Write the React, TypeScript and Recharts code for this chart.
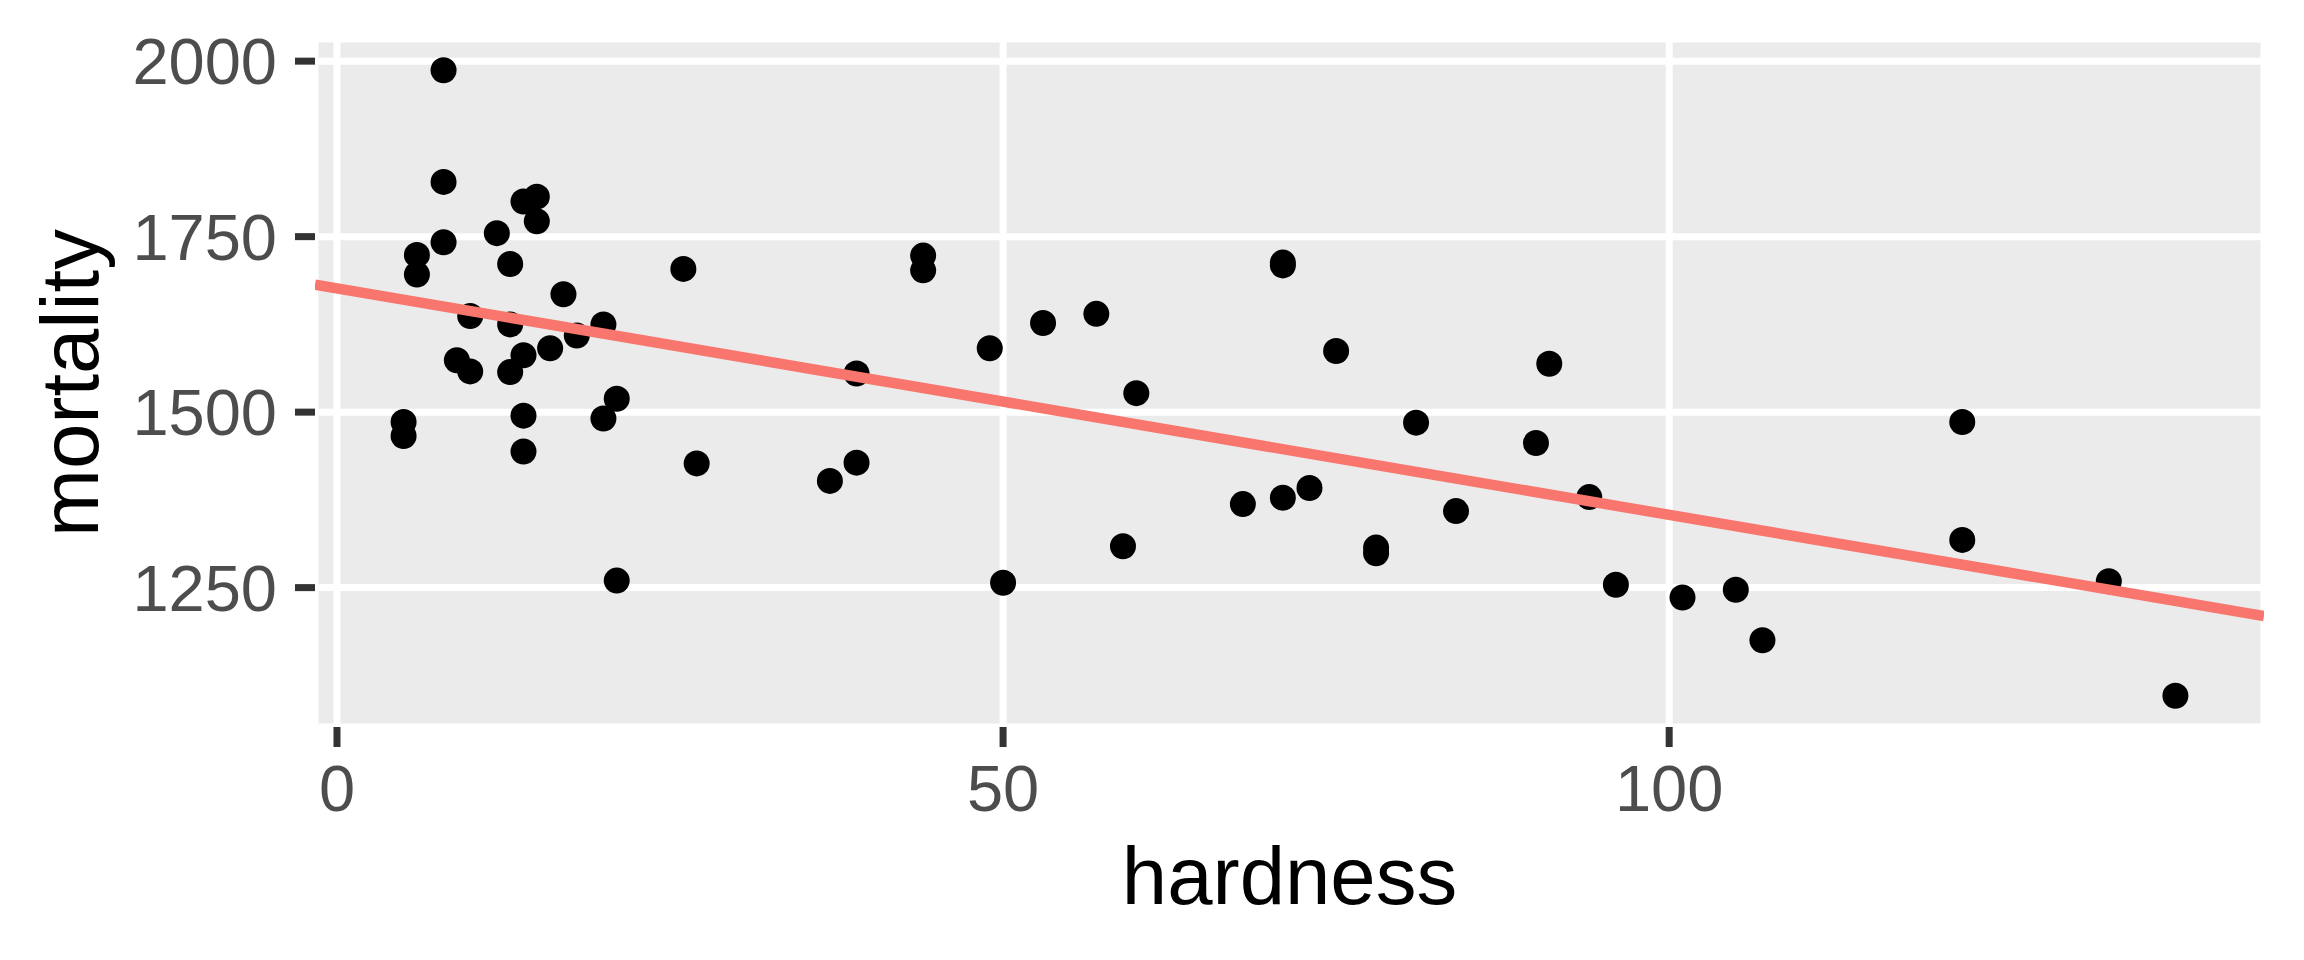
import React from "react";
import { ScatterChart, Scatter, XAxis, YAxis, CartesianGrid, Label } from "recharts";

const towns = [
  "Bath", "Birkenhead", "Birmingham", "Blackburn", "Blackpool", "Bolton", "Bootle", "Bournemouth",
  "Bradford", "Brighton", "Bristol", "Burnley", "Cardiff", "Coventry", "Croydon", "Darlington",
  "Derby", "Doncaster", "East Ham", "Exeter", "Gateshead", "Grimsby", "Halifax", "Huddersfield",
  "Hull", "Ipswich", "Leeds", "Leicester", "Liverpool", "Manchester", "Middlesbrough", "Newcastle",
  "Newport", "Northampton", "Norwich", "Nottingham", "Oldham", "Oxford", "Plymouth", "Portsmouth",
  "Preston", "Reading", "Rochdale", "Rotherham", "St Helens", "Salford", "Sheffield", "Southampton",
  "Southend", "Southport", "South Shields", "Stockport", "Stoke", "Sunderland", "Swansea", "Wallasey",
  "Walsall", "West Bromwich", "West Ham", "Wolverhampton", "York",
];

const hardness = [
  105, 17, 5, 14, 18, 10, 15, 78,
  10, 84, 73, 12, 21, 78, 96, 20,
  39, 39, 122, 21, 44, 94, 8, 9,
  91, 138, 16, 37, 15, 8, 26, 44,
  14, 59, 133, 27, 6, 107, 5, 90,
  6, 101, 13, 14, 49, 8, 14, 68,
  50, 75, 71, 13, 57, 71, 13, 20,
  60, 53, 122, 81, 71,
];

const mortality = [
  1247, 1668, 1466, 1800, 1609, 1558, 1807, 1299,
  1637, 1359, 1392, 1755, 1519, 1307, 1254, 1491,
  1555, 1428, 1318, 1260, 1723, 1379, 1742, 1574,
  1569, 1096, 1591, 1402, 1772, 1828, 1704, 1702,
  1581, 1309, 1259, 1427, 1724, 1175, 1486, 1456,
  1696, 1236, 1711, 1444, 1591, 1987, 1495, 1369,
  1257, 1587, 1713, 1557, 1640, 1709, 1625, 1625,
  1527, 1627, 1486, 1485, 1378,
];

// fitted line end points (panel edges)
const trendHardness = [-1.65, 144.65];
const trendMortality = [1681.7, 1209.6];

const xTicks = [0, 50, 100];
const yTicks = [1250, 1500, 1750, 2000];
const xDomain = [-1.65, 144.65];
const yDomain = [1051.45, 2031.55];

const points = hardness.map((h, i) => ({ town: towns[i], hardness: h, mortality: mortality[i] }));
const trend = trendHardness.map((h, i) => ({ hardness: h, mortality: trendMortality[i] }));

const FONT = "'Liberation Sans', Arial, Helvetica, sans-serif";
const tickStyle = { fill: "#4D4D4D", fontSize: 65, fontFamily: FONT };

const Dot = (props: any) => {
  const { cx, cy } = props;
  if (cx == null || cy == null) return <g />;
  return <circle cx={cx} cy={cy} r={13} fill="#000000" />;
};

const NoDot = () => <g />;

const XTitle = (props: any) => {
  const vb = props.viewBox || {};
  const x = (vb.x ?? 315) + (vb.width ?? 1949) / 2;
  const y = (vb.y ?? 727) + 177;
  return (
    <text x={x} y={y} textAnchor="middle" fill="#000000" fontSize={81.5} fontFamily={FONT}>
      hardness
    </text>
  );
};

const YTitle = (props: any) => {
  const vb = props.viewBox || {};
  const x = (vb.x ?? 0) + 98;
  const y = (vb.y ?? 39) + (vb.height ?? 688) / 2;
  return (
    <text
      x={x}
      y={y}
      textAnchor="middle"
      fill="#000000"
      fontSize={81.5}
      fontFamily={FONT}
      transform={`rotate(-90, ${x}, ${y})`}
    >
      mortality
    </text>
  );
};

export default function App() {
  return (
    <div style={{ position: "absolute", left: 0, top: 0, width: 2304, height: 960, background: "#FFFFFF" }}>
      <ScatterChart width={2304} height={960} margin={{ top: 39, right: 40, bottom: 0, left: 0 }}>
        <CartesianGrid fill="#EBEBEB" stroke="#FFFFFF" strokeWidth={7} />
        <XAxis
          type="number"
          dataKey="hardness"
          domain={xDomain}
          ticks={xTicks}
          allowDataOverflow
          axisLine={false}
          tickLine={{ stroke: "#333333", strokeWidth: 7 }}
          tickSize={20}
          tickMargin={18}
          tick={tickStyle}
          height={233}
        >
          <Label content={<XTitle />} />
        </XAxis>
        <YAxis
          type="number"
          dataKey="mortality"
          domain={yDomain}
          ticks={yTicks}
          allowDataOverflow
          axisLine={false}
          tickLine={{ stroke: "#333333", strokeWidth: 7 }}
          tickSize={20}
          tickMargin={18}
          tick={tickStyle}
          width={315}
        >
          <Label content={<YTitle />} />
        </YAxis>
        <Scatter data={points} shape={<Dot />} isAnimationActive={false} />
        <Scatter
          data={trend}
          shape={<NoDot />}
          line={{ stroke: "#F8766D", strokeWidth: 10.5 }}
          lineType="joint"
          isAnimationActive={false}
        />
      </ScatterChart>
    </div>
  );
}
